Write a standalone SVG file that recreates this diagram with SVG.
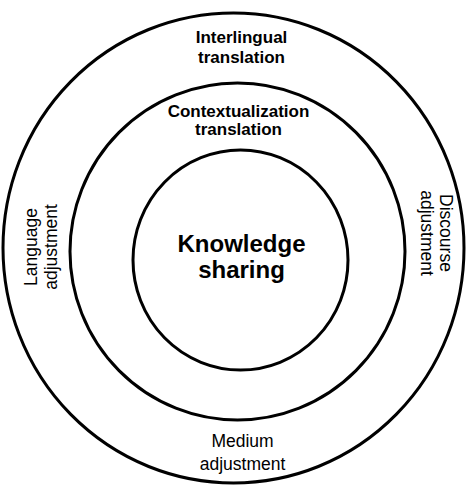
<svg xmlns="http://www.w3.org/2000/svg" width="466" height="487" viewBox="0 0 466 487">
<style>
.ring{fill:none;stroke:#000;stroke-width:3}
.b{font-family:"Liberation Sans",Arial,sans-serif;font-weight:bold;fill:#000;text-anchor:middle}
.n{font-family:"Liberation Sans",Arial,sans-serif;fill:#000;text-anchor:middle;font-size:17.5px}
</style>
<rect width="466" height="487" fill="#fff"/>
<g id="outer">
<ellipse class="ring" cx="233.5" cy="248" rx="230.5" ry="235"/>
<text class="b" font-size="17" x="241.5" y="43">Interlingual</text>
<text class="b" font-size="17" x="241.5" y="62.5">translation</text>
<text class="n" transform="translate(37,247) rotate(-90)"><tspan x="0" y="0">Language</tspan><tspan x="0" y="20">adjustment</tspan></text>
<text class="n" transform="translate(440,233) rotate(90)"><tspan x="0" y="0">Discourse</tspan><tspan x="0" y="19.5">adjustment</tspan></text>
<text class="n" x="242.5" y="447">Medium</text>
<text class="n" x="242.5" y="470">adjustment</text>
</g>
<g id="middle">
<ellipse class="ring" cx="237.5" cy="251.5" rx="167.5" ry="168.5"/>
<text class="b" font-size="17" x="238.5" y="116.5">Contextualization</text>
<text class="b" font-size="17" x="238.5" y="135">translation</text>
</g>
<g id="inner">
<ellipse class="ring" cx="240.5" cy="260" rx="107.5" ry="110"/>
<text class="b" font-size="24" x="241.5" y="251.5">Knowledge</text>
<text class="b" font-size="24" x="241.5" y="277.5">sharing</text>
</g>
<g id="connectors"/>
</svg>
